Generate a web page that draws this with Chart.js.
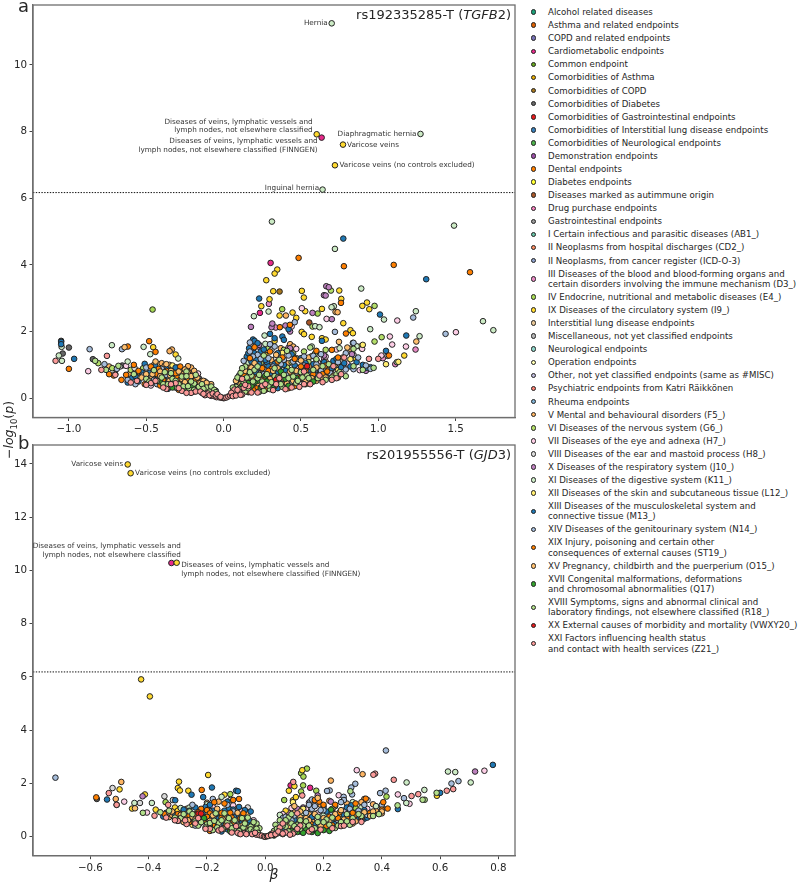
<!DOCTYPE html>
<html>
<head>
<meta charset="utf-8">
<script src="https://cdn.jsdelivr.net/npm/chart.js@4"></script>
<style>
  html, body { margin: 0; padding: 0; background: #fff; }
  body { width: 798px; height: 884px; position: relative; overflow: hidden; font-family: "DejaVu Sans", sans-serif; color: #262626; }
  canvas { position: absolute; left: 0; }
  #chartA { top: 0; }
  #chartB { top: 440px; }
  .letter { position: absolute; left: 18px; font-size: 18px; line-height: 18px; }
  #yTitle { position: absolute; left: 10px; top: 430px; font-size: 12.5px; white-space: nowrap; transform: translate(-50%, -50%) rotate(-90deg); }
  #yTitle sub { font-size: 8.5px; }
  #legend { position: absolute; left: 526px; top: 5.6px; margin: 0; padding: 0; list-style: none; font-size: 8.65px; line-height: 10.2px; }
  #legend li { position: relative; padding: 1.45px 0 1.45px 22px; white-space: nowrap; }
  #legend b { position: absolute; left: 4.5px; top: 50%; width: 3.6px; height: 3.6px; margin-top: -2.8px; border: 1px solid #222; border-radius: 50%; }
</style>
</head>
<body>
<canvas id="chartA" width="520" height="440" style="width:520px;height:440px"></canvas>
<canvas id="chartB" width="520" height="444" style="width:520px;height:444px"></canvas>
<div class="letter" style="top:-3px">a</div>
<div class="letter" style="top:434px">b</div>
<div id="yTitle"><i>−log</i><sub>10</sub>(<i>p</i>)</div>
<ul id="legend"></ul>
<script>
const categories = [
  "Alcohol related diseases", "Asthma and related endpoints", "COPD and related endpoints", "Cardiometabolic endpoints",
  "Common endpoint", "Comorbidities of Asthma", "Comorbidities of COPD", "Comorbidities of Diabetes",
  "Comorbidities of Gastrointestinal endpoints", "Comorbidities of Interstitial lung disease endpoints",
  "Comorbidities of Neurological endpoints", "Demonstration endpoints", "Dental endpoints", "Diabetes endpoints",
  "Diseases marked as autimmune origin", "Drug purchase endpoints", "Gastrointestinal endpoints",
  "I Certain infectious and parasitic diseases (AB1_)", "II Neoplasms from hospital discharges (CD2_)",
  "II Neoplasms, from cancer register (ICD-O-3)",
  "III Diseases of the blood and blood-forming organs and\ncertain disorders involving the immune mechanism (D3_)",
  "IV Endocrine, nutritional and metabolic diseases (E4_)", "IX Diseases of the circulatory system (I9_)",
  "Interstitial lung disease endpoints", "Miscellaneous, not yet classified endpoints", "Neurological endpoints",
  "Operation endpoints", "Other, not yet classified endpoints (same as #MISC)", "Psychiatric endpoints from Katri Räikkönen",
  "Rheuma endpoints", "V Mental and behavioural disorders (F5_)", "VI Diseases of the nervous system (G6_)",
  "VII Diseases of the eye and adnexa (H7_)", "VIII Diseases of the ear and mastoid process (H8_)",
  "X Diseases of the respiratory system (J10_)", "XI Diseases of the digestive system (K11_)",
  "XII Diseases of the skin and subcutaneous tissue (L12_)",
  "XIII Diseases of the musculoskeletal system and\nconnective tissue (M13_)", "XIV Diseases of the genitourinary system (N14_)",
  "XIX Injury, poisoning and certain other\nconsequences of external causes (ST19_)",
  "XV Pregnancy, childbirth and the puerperium (O15_)",
  "XVII Congenital malformations, deformations\nand chromosomal abnormalities (Q17)",
  "XVIII Symptoms, signs and abnormal clinical and\nlaboratory findings, not elsewhere classified (R18_)",
  "XX External causes of morbidity and mortality (VWXY20_)",
  "XXI Factors influencing health status\nand contact with health services (Z21_)"
];
const catKeys = ["alc","ast","cop","car","com","cas","cco","cdi","cga","cil","cne","dem","den","dia","aut","drg","gas",
  "ab1","cd2","ico","d3","e4","i9","ild","mis","neu","ope","oth","psy","rhe","f5","g6","h7","h8","j10","k11","l12",
  "m13","n14","st19","o15","q17","r18","vw","z21"];
const catColors = ["#1b9e77","#d95f02","#7570b3","#e7298a","#66a61e","#e6ab02","#a6761d","#666666",
  "#e41a1c","#377eb8","#4daf4a","#984ea3","#ff7f00","#ffff33","#a65628","#f781bf","#999999",
  "#66c2a5","#fc8d62","#8da0cb","#e78ac3","#a6d854","#ffd92f","#e5c494","#b3b3b3",
  "#8dd3c7","#ffffb3","#bebada","#fb8072","#80b1d3","#fdb462","#b3de69","#fccde5","#d9d9d9","#bc80bd","#ccebc5","#ffed6f",
  "#1f78b4","#a6bddb","#ff7f00","#fdbf6f","#33a02c","#b2df8a","#e31a1c","#fb9a99"];

// panel a, [beta, -log10 p]
const carA = [[.304,4.06],[.235,2.56],[.634,7.82]];
const ccoA = [[.362,3.2]];
const cdiA = [[-1.05,1.72],[-1.0,1.52],[-1.04,1.34],[-.845,1.17],[-.655,.98]];
const autA = [[.554,2.27]];
const d3A = [[.293,2.83],[.337,2.12],[1.241,1.46],[.65,1.18],[.42,1.52],[1.03,1.2],[1.11,1.02]];
const e4A = [[-.459,2.66],[.379,2.67],[.608,2.54]];
const i9A = [[.602,7.92],[.772,7.61],[.72,6.99],[.347,3.86],[.33,3.74],[.276,3.54],[.748,3.23],[.321,3.21],[.506,3.22],[.519,3.02],
  [.297,2.97],[.761,2.98],[.244,2.76],[.897,2.77],[.927,2.87],[.942,2.67],[.636,2.68],[.446,2.57],[.528,2.61],[.362,2.48],[.47,2.41],
  [.774,2.25],[.82,2.04],[.836,1.95],[.636,1.8],[.66,1.76],[.57,1.84],[.505,1.99],[.52,1.92],[.33,1.72],[.27,1.3],[1.168,1.28],[-.455,1.53],[-.31,1.31],
  [.884,1.55],[.855,1.18],[.63,.7],[.72,1.0],[.41,.98],[.29,.66],[-.36,.92],[-.27,.78],[-.55,.78],[-.7,.72],[-.37,.62],[-.29,.62],[-.2,.42],[.19,.75],[.56,.62],[.45,.76]];
const f5A = [[-.334,1.46],[-.349,1.41],[.724,2.59],[.737,2.58],[.403,2.48],[.82,1.48],[.77,1.22],[.57,1.26],[.31,1.15],[.43,1.62],[.68,.85],
  [-.26,.72],[-.42,1.02],[-.39,.65],[-.32,.88],[-.21,.92],[-.22,.62],[-.46,.62],[-.61,.72],[.2,.64],[.5,.58],[.35,.45],[.6,.52],[.26,.93],[.12,.45],
  [-.4,1.05],[-.38,.98],[-.35,.78],[-.3,.92],[-.24,.88],[-.19,.75],[-.16,.6],[.15,.9],[.24,.78],[.34,.72],[.42,1.05],[.52,.72],[.66,1.1],
  [.37,1.5],[.55,1.22],[.45,1.55],[.28,1.45],[-.45,1.0],[-.35,1.0],[-.23,.96],[-.58,.85],[-.74,.95]];
const g6A = [[.694,3.23],[.976,2.77],[.575,2.15],[.976,1.7],[1.022,1.83],[.44,1.08],[.59,1.33],[.52,1.4],[.45,1.35],[.24,1.05],[.15,.7],
  [-.81,1.05],[-.52,.9],[-.28,.36],[-.12,.24],[.66,1.45],[.12,.66],[.14,.52],[.19,.85],[.22,.82],[.3,.95],[.35,.85],[.41,.92],[.49,.7],[.55,.88],[-.34,.66],[-.25,.55],[-.17,.34],
  [.47,1.2],[.39,1.45],[.55,1.08],[.29,1.5],[-.6,.85],[-.72,.9],[-.2,.62]];
const h7A = [[.506,2.7],[.666,2.38],[1.123,2.33],[1.502,1.98],[1.075,1.85],[1.09,1.61],[1.179,1.55],[.896,1.48],[.44,2.15],[-.875,.81],[.7,.73],
  [.48,.9],[.66,1.25],[.61,1.08],[.77,.98],[.47,1.48],[.73,1.46],[.8,1.04],[-.165,.74],[-.47,.38],[-.63,.97],[1.02,1.28],[.88,.84],[.28,.9],[.23,.86],[.36,.7],[.16,.98],[-.29,.48],[-.21,.42]];
const h8A = [[-.575,.9],[1.06,1.27],[.84,1.3],[.31,1.45],[.6,1.14],[-.67,.95],[.7,.88],[.18,1.56],[.34,1.2],[-.41,.86]];
const j10A = [[.664,3.36],[.68,3.33],[.649,3.09],[.66,3.08],[.575,2.56],[.7,2.37],[.177,2.14],[.31,2.13],[.315,2.24],[.4,2.18],[.43,2.0],
  [.43,1.5],[.65,1.28],[.92,.82],[.83,1.32],[.225,1.55],[.19,1.48],[.23,1.6]];
const k11A = [[.699,11.25],[1.273,7.93],[.64,6.26],[.3125,5.3],[1.49,5.18],[.72,4.48],[.89,3.29],[.713,2.76],[.698,2.73],[.291,2.6],[1.243,2.61],
  [.196,2.46],[1.037,2.36],[1.677,2.31],[1.744,2.04],[.948,2.07],[1.267,1.86],[.265,1.88],[.592,2.16],[.62,2.13],[1.12,1.08],[.27,1.63],
  [-.722,1.59],[-.517,1.54],[-.474,1.32],[-.293,1.19],[-1.065,1.28],[-1.047,1.54],[-1.045,1.12],[-.62,1.1],[.86,1.56],[.75,1.5],[.57,1.55],[.16,1.05],[.28,1.0],[.48,1.18],[-.56,.62],[-.38,.7]];
const l12A = [[1.05,1.02],[1.13,1.09],[.9,1.6],[.82,1.17],[.38,1.36],[-.33,.98],[-.44,.72],[.57,.48],[.74,.84],[.62,.95],[-.27,.5],[.23,.52]];
const m13A = [[.774,4.79],[1.31,3.57],[.23,2.99],[1.011,2.51],[1.181,1.88],[1.05,1.42],[.836,1.66],[.636,1.72],[.33,1.8],[.38,1.85],[.39,1.75],[.42,2.07],[.3,1.93],
  [-1.05,1.69],[-1.05,1.62],[-.966,1.18],[-.442,.97],[-.51,1.03],[-.59,.62],[.19,1.76],[.2,1.72],[.22,1.65],[.165,1.5],[.2,1.35],[.24,1.4],[.26,1.46],
  [.15,1.25],[.18,1.1],[.23,1.02],[.28,1.08],[.33,1.03],[.36,.93],[.12,.78],[.16,.86],[.21,.78],[.25,.66],[.3,.72],[.34,.62],[.4,.82],[.46,.99],[.5,1.2],
  [.53,1.05],[.55,.78],[.44,.6],[.52,.58],[.62,.82],[.71,1.12],[.73,1.18],[.76,.93],[.86,1.08],[.9,1.0],[.93,.91],[.95,.93],
  [-.53,.78],[-.48,.76],[-.62,.47],[-.55,.5],[-.44,.58],[-.38,.53],[-.33,.4],[-.28,.45],[-.24,.6],[-.2,.53],[-.15,.39],[-.26,.3],[-.18,.27],[-.1,.24],[-.06,.14],
  [.09,.5],[.13,.6],[.14,.42],[.17,.55],[.19,.42],[.19,.95],[.16,1.35],[.21,1.15],[.24,.9],[.27,.55],[.27,1.15],[.29,.95],[.32,.55],[.35,.75],[.37,.5],[.39,1.0],[.43,.75],[.46,.5],[.48,.75],[.51,.85],[.57,.65],[.6,.7],[.66,.72],[.68,.65],[.7,.9],[.78,1.05],[.82,.95],
  [-.5,.62],[-.46,.5],[-.42,.72],[-.4,.45],[-.36,.65],[-.34,.58],[-.31,.32],[-.29,.55],[-.27,.4],[-.25,.25],[-.23,.48],[-.22,.28],[-.19,.62],[-.17,.44],[-.16,.3],[-.13,.35],[-.12,.42],[-.08,.32],
  [.44,1.32],[.58,1.02],[.35,1.35],[.65,1.08],[-.37,.88],[-.31,.92],[-.57,.66],[.35,.3],[.26,.26],[-.36,.28],[-.21,.18],[.16,.18]];
const n14A = [[1.226,2.42],[1.435,1.93],[.72,1.99],[.46,2.28],[.84,1.66],[.87,1.22],[.92,.98],[.95,.88],[.79,1.35],[-.866,1.47],[-.657,1.47],[.33,1.55],[.39,1.15],[.58,1.27],
  [.17,1.67],[.22,1.3],[.27,.83],[.49,.77],[.65,.92],[.79,.86],[.84,.87],[.43,.46],[.6,1.02],[-.69,.88],[-.62,.55],[-.57,.42],[-.43,.42],[-.37,.7],[-.27,.52],[-.16,.58],[-.09,.36],[.09,.44],
  [.1,.68],[.13,1.12],[.17,1.4],[.19,1.25],[.24,1.18],[.26,.72],[.29,1.2],[.32,.95],[.37,1.02],[.41,.7],[.45,1.1],[.47,.72],[.52,.98],[.56,.7],[.59,.85],[.63,.82],[.69,.75],[.74,1.08],
  [-.52,.68],[-.45,.55],[-.4,.88],[-.35,.58],[-.3,.68],[-.26,.62],[-.22,.52],[-.2,.4],[-.17,.5],[-.12,.5],[-.05,.22],[.52,1.25],[.42,1.28],[.3,1.62],[.63,1.32],[-.5,.92],[-.77,1.02]];
const st19A = [[.485,4.21],[1.1,4.0],[.778,3.96],[1.593,3.78],[.759,2.86],[.364,2.13],[.429,2.2],[.791,1.94],[1.069,1.28],[.66,.98],[.74,1.22],
  [-.619,1.55],[-.481,1.71],[-.44,1.39],[-1.0,.88],[.2,1.53],[.17,1.2],[.25,.9],[.31,.88],[.38,1.22],[.48,.62],[.56,.5],[.62,.62],[.11,.6],[.23,.44],[.29,.32],[.34,.52],
  [.41,.55],[-.58,1.0],[-.66,.55],[-.71,.68],[-.51,.42],[-.47,.95],[-.35,.35],[-.24,.42],[-.2,.72],[-.14,.52],[-.3,.62],[-.41,.38],[.2,.28],
  [.13,.72],[.15,.5],[.17,.92],[.19,.62],[.21,.98],[.22,.33],[.26,.6],[.27,.38],[.29,.82],[.31,.6],[.33,.36],[.37,.65],[.39,.42],[.44,.72],[.46,.36],[.5,.95],[.53,.42],[.58,.72],[.64,.72],[.67,.8],[.74,.62],
  [-.43,.72],[-.39,.55],[-.37,.82],[-.33,.55],[-.31,.75],[-.28,.55],[-.26,.42],[-.23,.56],[-.22,.75],[-.19,.35],[-.18,.55],[-.16,.46],[-.12,.35],[-.1,.42],
  [.35,1.1],[.46,1.18],[.53,.82],[.6,1.42],[.7,1.45],[.3,1.4],[-.42,.88],[-.28,.95],[-.25,.68],[-.55,.82],[-.63,.7],[-.74,.72],[.42,.3],[.16,.2],[.27,.25],[-.29,.25],[-.19,.2]];
const o15A = [[.746,1.69],[1.246,1.7],[.5,1.13],[.34,1.3],[.8,1.52],[.55,.95],[.64,.58],[.18,.92],[.43,.8],[-.64,1.53],[-.41,.8],[-.345,.68],[-.25,.86],[-.53,.62],
  [-.44,1.1],[-.37,1.02],[-.29,.8],[-.17,.62],[-.08,.42],[.1,.34],[.3,.42],[.71,.67],
  [.08,.52],[.11,.42],[.14,.82],[.16,.62],[.2,1.05],[.22,.45],[.24,.55],[.27,.48],[.3,.58],[.32,.82],[.35,.9],[.38,.6],[.41,.45],[.45,.52],[.47,.82],[.53,.52],[.57,.6],[.6,.92],[.66,.62],
  [-.5,.72],[-.46,.72],[-.41,.66],[-.35,.52],[-.34,.82],[-.3,.42],[-.27,.58],[-.25,.48],[-.23,.74],[-.21,.66],[-.19,.82],[-.15,.46],[-.13,.52],[-.11,.46],[-.1,.22]];
const q17A = [[.37,.8],[.28,.5],[.18,.37],[.42,.37],[-.41,.5],[-.2,.35],[-.33,.32],[.16,.45],[.22,.52],[.24,.3],[.27,.68],[.32,.3],[.4,.58],[.47,.6],[.58,.5],[.12,.38],[.2,.48],[-.24,.3],[-.14,.3]];
const r18A = [[.41,1.42],[.56,1.52],[.84,1.48],[.97,.91],[.79,.66],[.68,1.02],[.6,1.17],[.5,.78],[.44,.85],[.36,1.15],[.33,.66],[.26,1.28],[.22,.6],[.18,.68],[.14,.95],[.11,.76],[.08,.34],
  [.3,.27],[.38,.34],[.47,.45],[.54,.68],[.64,.96],[.73,.72],[.84,.96],[.9,.85],[.14,.2],[.23,.19],[.06,.2],
  [-.83,1.12],[-.76,.85],[-.68,.97],[-.58,.72],[-.5,.58],[-.45,.84],[-.39,.42],[-.34,.75],[-.3,.31],[-.27,.65],[-.22,.25],[-.19,.44],[-.15,.25],[-.11,.32],[-.07,.26],[-.04,.1],[-.24,.8],
  [.06,.32],[.09,.62],[.1,.28],[.12,.9],[.13,.48],[.15,.62],[.16,.3],[.17,.78],[.19,.5],[.2,.85],[.22,.95],[.23,.7],[.25,.5],[.26,.22],[.28,.72],[.29,.38],[.31,.48],[.33,.9],[.35,.62],[.37,.42],[.39,.7],[.42,.6],[.45,.65],[.48,.52],[.51,.62],[.55,.6],[.58,.85],[.61,.6],[.66,.55],[.7,.62],[.75,.78],
  [-.48,.5],[-.43,.52],[-.4,.62],[-.38,.78],[-.36,.42],[-.33,.58],[-.31,.52],[-.29,.42],[-.26,.35],[-.24,.66],[-.23,.36],[-.21,.5],[-.19,.25],[-.18,.7],[-.16,.34],[-.14,.42],[-.13,.28],[-.09,.2],[-.08,.35],[-.06,.25],[-.05,.18]];
const vwA = [[.54,.96],[.34,.55]];
const z21A = [[-1.086,1.12],[-.754,1.27],[-.79,.85],[-.7,.7],[-.6,.47],[-.47,.45],[-.37,.28],[-.31,.45],[-.27,.22],[-.21,.16],
  [-.14,.16],[-.12,.09],[-.1,.14],[-.08,.07],[-.06,.06],[-.045,.03],[-.025,.02],[-.01,.01],[0,0],[.006,.01],[.018,.02],[.03,.05],[.042,.08],[.055,.11],[.07,.12],[.085,.15],[.07,.26],[.1,.19],[.12,.11],
  [.13,.31],[.18,.17],[.16,.36],[.25,.37],[.32,.24],[.4,.27],[.36,.6],[.52,.42],[.62,.68],[.7,.55],[.12,.58],[.52,.8],[.78,1.22],[.94,1.18],[1.0,1.18],[.71,.96],
  [.05,.16],[.06,.06],[.08,.08],[.09,.25],[.11,.1],[.14,.4],[.22,.17],[.27,.42],[.34,.42],[.44,.32],[.49,.34],[.56,.42],[.64,.48],[.73,.6],[.76,.72],
  [-.56,.52],[-.5,.4],[-.44,.52],[-.39,.32],[-.34,.42],[-.29,.3],[-.24,.16],[-.18,.2],[-.15,.2],[-.13,.13],[-.09,.09],[-.07,.14],[-.05,.08],[-.04,.12],[-.02,.04]];
const pointsA = { car:carA, cco:ccoA, cdi:cdiA, aut:autA, d3:d3A, e4:e4A, i9:i9A, f5:f5A, g6:g6A, h7:h7A, h8:h8A, j10:j10A, k11:k11A, l12:l12A, m13:m13A, n14:n14A, st19:st19A, o15:o15A, q17:q17A, r18:r18A, vw:vwA, z21:z21A };

// panel b, [beta, -log10 p]
const carB = [[-.322,10.28],[.087,1.93],[.154,1.84]];
const cdiB = [[-.578,1.42]];
const d3B = [[.15,1.28],[.08,.9]];
const e4B = [[.143,2.56],[.123,2.39],[.131,2.26],[.13,1.93],[.175,1.73],[.123,1.7],[.065,1.38],[.416,1.51],[.31,1.08],[-.342,1.3],[-.12,1.6]];
const i9B = [[-.472,13.98],[-.462,13.65],[-.304,10.29],[-.426,5.91],[-.396,5.27],[.127,2.5],[.1,1.9],[.081,1.73],[.095,1.37],[.105,1.49],[.589,1.54],
  [-.5,1.78],[-.413,1.59],[-.457,1.06],[-.376,1.02],[-.296,2.07],[-.3,1.83],[-.293,1.74],[-.264,1.73],[-.196,2.32],[-.31,1.1],[-.3,.98],[.07,.98],[.4,1.1],[.28,.62],[-.14,1.58],[-.24,.62],[-.15,.8],[.06,.62],[.16,.42]];
const f5B = [[-.494,2.06],[-.513,1.42],[.334,2.35],[.225,2.11],[.18,1.42],[.19,1.2],[.34,1.42],[.26,.9],[.33,.88],[.4,.88],[-.22,.98],[-.16,1.32],[-.33,.74],[-.28,.95],[-.12,1.08],
  [-.09,.62],[.12,.75],[.2,.96],[.29,.68],[.38,.97],[.16,.62],[.1,1.0],[.15,.85],[.24,.55],[-.27,1.05],[-.21,.72],[-.16,.85],[-.13,.72],[-.06,.42],[-.03,.4],
  [-.32,.82],[-.2,1.28],[.28,1.25],[.22,1.35],[.33,1.3],[.37,1.22],[-.06,.88]];
const h7B = [[.752,2.48],[.314,2.5],[.455,1.59],[.495,1.24],[.252,1.56],[-.484,1.32],[-.406,.91],[.35,1.05],[.06,.85],[.14,1.05],[.27,.98],[-.18,1.12],[-.08,.98],[.18,.9],[.23,1.0],[.09,1.08],[-.11,1.18],[-.04,.62]];
const h8B = [[-.524,1.83],[-.43,1.27],[-.346,1.52],[-.317,1.38],[.351,1.38],[-.06,1.1],[-.12,1.38],[.09,.72]];
const j10B = [[.72,2.45],[-.421,1.52],[.18,1.55],[.11,1.05],[.225,1.32],[.13,1.1]];
const k11B = [[.652,2.43],[.627,2.45],[.705,2.04],[.546,1.76],[.485,2.04],[.484,1.27],[.3,1.3],[-.449,1.27],[-.389,1.27],[-.2,1.22],[-.15,1.5],[.13,.9],[.2,.8],[.33,1.1],[-.26,1.1],[.05,.82],[.24,1.15],[.38,1.15],[-.29,1.08]];
const l12B = [[.095,1.3],[.13,1.05],[.26,.75],[-.25,.45],[-.1,.88],[.21,.55],[-.17,.95]];
const m13B = [[.781,2.7],[.6,1.65],[.455,1.04],[-.543,1.4],[-.253,1.58],[-.213,1.49],[-.183,1.85],[-.1,1.73],[-.094,1.71],[-.309,1.37],[-.35,.76],[-.34,.9],[.295,1.18],[.21,.95],[.29,.92],
  [.34,.68],[.16,.74],[.27,.82],[.2,.5],[.25,.55],[.32,.72],[.1,.64],[.14,.35],[-.27,.85],[-.25,.62],[-.22,.78],[-.2,.55],[-.205,1.12],[-.18,.98],[-.16,.7],[-.15,.45],[-.125,1.05],[-.12,.82],
  [-.11,.6],[-.1,.9],[-.09,1.12],[-.07,.72],[-.06,.5],[-.05,.95],[-.13,.28],[-.17,.32],[.22,.37],
  [-.31,.8],[-.29,.62],[-.26,.98],[-.235,.7],[-.215,.9],[-.195,1.02],[-.185,.72],[-.17,.85],[-.155,.58],[-.14,.98],[-.135,.62],[-.12,.62],[-.105,.48],[-.105,.74],[-.09,.8],[-.08,.55],[-.07,1.0],[-.055,.62],[-.045,.45],[-.12,.35],[-.09,.28],
  [.06,.28],[.09,.45],[.12,.2],[.13,.52],[.15,.3],[.17,.45],[.18,.3],[.19,.62],[.23,.62],[.24,.48],[.26,.45],[.27,.58],[.29,.78],[.31,.9],[.33,.62],[.35,.72],
  [-.24,1.1],[-.19,1.2],[-.13,1.32],[-.11,1.02],[-.28,1.02],[.2,1.12],[.28,1.1],[.34,1.0],[.1,.3],[-.15,.2],[-.07,.2]];
const n14B = [[-.72,2.22],[.414,3.24],[.663,2.09],[.639,2.0],[.476,1.45],[.309,1.99],[.295,1.85],[.298,1.59],[.221,1.74],[.212,1.72],[.394,1.64],[.413,1.73],[.269,1.5],[.27,1.38],
  [.155,1.33],[.16,1.05],[.2,1.0],[.06,.7],[.1,.8],[.24,.7],[.35,.82],[-.3,.6],[-.18,1.42],[-.24,.42],[.29,1.05],[.4,1.2],[.12,.55],[.07,.75],[.09,.62],[.14,.9],[.17,1.15],[.19,1.0],[.23,.88],[.25,.62],[.28,.72],[.32,.98],[.37,.9],[.15,1.2],
  [-.28,.78],[-.23,.8],[-.19,.95],[-.16,.42],[-.13,1.2],[-.1,.52],[-.07,.6],[.26,1.3],[.34,1.2],[.16,1.4],[-.25,1.2],[-.11,.95]];
const st19B = [[-.58,1.48],[-.218,1.76],[-.24,.85],[-.2,1.0],[-.22,1.05],[-.19,.88],[-.345,.85],[-.12,.9],[-.09,1.42],[-.15,.72],[-.175,1.3],[-.11,.55],[.185,1.32],[.2,1.2],[.31,.82],[.255,.92],[.29,.62],[.2,.38],[.23,.43],[.345,1.43],[.405,1.3],[.4,1.02],[.42,1.06],[.155,.5],[-.14,.35],[-.26,.55],
  [-.3,.85],[-.27,.7],[-.245,.55],[-.23,.92],[-.21,.62],[-.2,.75],[-.18,.45],[-.165,.55],[-.15,.9],[-.135,.45],[-.115,.72],[-.1,.35],[-.085,.7],[-.075,.88],
  [.13,.5],[.16,.35],[.18,.22],[.21,.4],[.22,.75],[.25,.7],[.27,.48],[.28,.72],[.3,.9],[.33,.72],[.36,.9],
  [-.26,.8],[-.14,1.25],[-.11,1.38],[-.07,.55],[.24,1.2],[.31,1.25],[.17,1.38],[.09,.28],[-.19,.22],[-.12,.25]];
const o15B = [[-.447,1.07],[-.51,1.2],[.18,1.46],[.2,.7],[.26,1.0],[.23,1.05],[.14,.7],[.1,1.15],[.31,.58],[.07,.5],[-.33,.92],[-.31,.7],[-.28,.55],[-.25,.75],[-.19,.6],[-.13,.72],[-.08,.42],[-.06,.32],[.4,.95],[.36,.78],
  [-.32,.95],[-.29,.82],[-.265,.62],[-.24,.65],[-.225,.5],[-.195,.42],[-.18,.8],[-.165,1.05],[-.145,.65],[-.125,.5],[-.105,.3],[-.095,.9],[-.07,.3],[-.045,.35],[-.03,.2],
  [.08,.4],[.1,.3],[.12,.95],[.15,.62],[.17,.85],[.19,.42],[.22,.6],[.24,.85],[.27,.65],[.3,.5],[.34,.92],[.37,.95]];
const q17B = [[.226,1.02],[.14,.28],[.09,.22],[-.19,.4],[-.21,.7],[-.12,.2],[-.06,.18],[.05,.15],[.11,.18],[.13,.15],[.16,.18],[.08,.15],[.03,.05],[.2,.25],[-.16,.28],[-.09,.12],[-.23,.62],[.18,.14],[.22,.22],[.06,.1]];
const r18B = [[.588,1.65],[.547,1.39],[.54,1.39],[.292,1.71],[.454,1.18],[.28,.85],[.33,.78],[.37,.78],[.39,.85],[.1,.18],[.12,.3],[.07,.38],[.05,.62],[.035,.45],[.08,.72],[.11,.45],[.16,.25],[.18,.55],[.21,.65],[.24,.33],[.29,.45],
  [-.42,.9],[-.36,.92],[-.29,.7],[-.26,.95],[-.23,.42],[-.2,.47],[-.17,.88],[-.16,.52],[-.14,.88],[-.12,.42],[-.1,.3],[-.08,.7],[-.06,.72],[-.05,.38],[-.03,.5],[-.02,.32],[-.18,.25],[-.13,.55],
  [-.33,.98],[-.31,.72],[-.28,.85],[-.25,.85],[-.24,.58],[-.22,.55],[-.205,.35],[-.19,.52],[-.175,.6],[-.165,.35],[-.15,.62],[-.145,.3],[-.125,.7],[-.115,.32],[-.105,.62],[-.095,.42],[-.09,.22],[-.075,.35],[-.07,.5],[-.06,.2],[-.05,.28],[-.04,.55],[-.04,.2],[-.03,.3],[-.025,.15],
  [.02,.1],[.03,.22],[.04,.3],[.05,.28],[.06,.42],[.07,.62],[.08,.2],[.09,.5],[.09,.85],[.1,.4],[.11,.3],[.12,.62],[.13,.42],[.14,.58],[.15,.42],[.17,.32],[.18,.75],[.2,.55],[.22,.45],[.23,.72],[.25,.42],[.26,.55],[.28,.58],[.3,.7],[.32,.85]];
const vwB = [[-.229,.87],[-.22,.87]];
const z21B = [[-.537,1.64],[-.51,1.2],[-.38,.79],[-.333,1.2],[.441,2.14],[.377,2.37],[.371,2.33],[.645,1.79],[.623,1.73],[.525,1.6],[.502,1.53],[.096,2.06],[.127,1.55],
  [-.3,.6],[-.27,.48],[-.23,.7],[-.19,.3],[-.16,.24],[-.13,.42],[-.1,.4],[-.095,.15],[-.07,.14],[-.045,.1],[-.03,.08],[-.02,.06],[-.012,.04],[-.004,.01],
  [0,0],[.006,.02],[.015,.05],[.025,.12],[.03,.07],[.04,.12],[.05,.35],[.06,.5],[.07,.16],[.095,.12],[.12,.42],[.15,.2],[.19,.27],[.26,.4],[.3,.56],[.11,.88],
  [-.34,.72],[-.31,.62],[-.275,.62],[-.24,.5],[-.205,.3],[-.15,.28],[-.115,.16],[-.085,.1],[-.065,.1],[-.035,.15],
  [.01,.03],[.02,.06],[.035,.1],[.045,.2],[.06,.12],[.085,.08],[.11,.3],[.16,.28],[.23,.32],[.27,.42],[.33,.56]];
const pointsB = { car:carB, cdi:cdiB, d3:d3B, e4:e4B, i9:i9B, f5:f5B, h7:h7B, h8:h8B, j10:j10B, k11:k11B, l12:l12B, m13:m13B, n14:n14B, st19:st19B, o15:o15B, q17:q17B, r18:r18B, vw:vwB, z21:z21B };

const xTicksA = [-1, -0.5, 0, 0.5, 1, 1.5];
const yTicksA = [0, 2, 4, 6, 8, 10];
const xTicksB = [-0.6, -0.4, -0.2, 0, 0.2, 0.4, 0.6, 0.8];
const yTicksB = [0, 2, 4, 6, 8, 10, 12, 14];
const thresholdA = 6.17;
const thresholdB = 6.19;
const titleA = ["rs192335285-T (", "TGFB", "2)"];
const titleB = ["rs201955556-T (", "GJD", "3)"];

const noteTextsA = [["Hernia"],
  ["Diseases of veins, lymphatic vessels and", "lymph nodes, not elsewhere classified"],
  ["Diseases of veins, lymphatic vessels and", "lymph nodes, not elsewhere classified (FINNGEN)"],
  ["Diaphragmatic hernia"], ["Varicose veins"], ["Varicose veins (no controls excluded)"], ["Inguinal hernia"]];
const notePointsA = [[.699,11.25],[.602,7.92],[.634,7.82],[1.273,7.93],[.772,7.61],[.72,6.99],[.64,6.26]];
const noteLayoutA = [["right",-4,0],["right",-4,-8],["right",-4,8],["right",-4,0],["left",4,0],["left",4.5,0],["right",-3.5,-1]];
const noteTextsB = [["Varicose veins"], ["Varicose veins (no controls excluded)"],
  ["Diseases of veins, lymphatic vessels and", "lymph nodes, not elsewhere classified"],
  ["Diseases of veins, lymphatic vessels and", "lymph nodes, not elsewhere classified (FINNGEN)"]];
const notePointsB = [[-.472,13.98],[-.462,13.65],[-.322,10.28],[-.304,10.29]];
const noteLayoutB = [["right",-4.5,0],["left",4.5,0],["right",9.5,-12.5],["left",4.5,7]];

const FONT = "'DejaVu Sans'";

function overlay(title, threshold, texts, pts, layout) {
  return {
    id: "overlay",
    afterDatasetsDraw(chart) {
      const { ctx, chartArea: a, scales } = chart;
      ctx.save();
      // frame
      ctx.strokeStyle = "#6e6e6e";
      ctx.lineWidth = 1.3;
      ctx.strokeRect(a.left, a.top, a.right - a.left, a.bottom - a.top);
      // point labels
      ctx.fillStyle = "#333";
      ctx.font = "7.25px " + FONT;
      ctx.textBaseline = "middle";
      texts.forEach((lines, i) => {
        const [align, dx, dy] = layout[i];
        const px = scales.x.getPixelForValue(pts[i][0]) + dx;
        const py = scales.y.getPixelForValue(pts[i][1]) + dy;
        ctx.textAlign = align;
        lines.forEach((line, j) => ctx.fillText(line, px, py + (j - (lines.length - 1) / 2) * 8.4));
      });
      // title, middle part is italic
      ctx.fillStyle = "#262626";
      ctx.textAlign = "left";
      ctx.textBaseline = "alphabetic";
      const fonts = ["13px " + FONT, "italic 13px " + FONT, "13px " + FONT];
      let w = 0;
      title.forEach((t, i) => { ctx.font = fonts[i]; w += ctx.measureText(t).width; });
      let x = a.right - 4 - w;
      title.forEach((t, i) => { ctx.font = fonts[i]; ctx.fillText(t, x, a.top + 13.5); x += ctx.measureText(t).width; });
      ctx.restore();
    }
  };
}

function fmt(v, decimals) {
  return v.toFixed(decimals).replace("-", "−");
}

function makeChart(id, points, threshold, xRange, yRange, xTicks, yTicks, xHeight, top, xDec, title, texts, pts, layout, showBeta) {
  const datasets = [];
  catKeys.forEach((key, i) => {
    if (!points[key]) return;
    datasets.push({
      label: categories[i],
      data: points[key].map(p => ({ x: p[0], y: p[1] })),
      backgroundColor: catColors[i],
      borderColor: "#222",
      borderWidth: 1,
      pointRadius: 2.8,
      order: -i
    });
  });
  datasets.push({
    type: "line",
    data: [{ x: xRange[0], y: threshold }, { x: xRange[1], y: threshold }],
    borderColor: "#111",
    borderWidth: 1,
    borderDash: [1.4, 1.4],
    pointRadius: 0,
    order: 5
  });
  return new Chart(document.getElementById(id), {
    type: "scatter",
    data: { datasets },
    options: {
      responsive: false,
      animation: false,
      layout: { padding: { top: top, right: 4, left: 0, bottom: 0 } },
      plugins: { legend: { display: false }, tooltip: { enabled: false } },
      scales: {
        x: {
          min: xRange[0], max: xRange[1],
          grid: { drawOnChartArea: false, tickLength: 3.5, tickColor: "#444" },
          border: { color: "#6e6e6e", width: 1.3 },
          afterBuildTicks: s => { s.ticks = xTicks.map(v => ({ value: v })); },
          afterFit: s => { s.height = xHeight; s.paddingLeft = 0; s.paddingRight = 0; },
          ticks: { autoSkip: false, maxRotation: 0, padding: 2.5, color: "#262626", font: { family: FONT, size: 10.3 }, callback: v => fmt(v, xDec) },
          title: { display: showBeta, text: "β", color: "#262626", padding: 0, font: { family: FONT, size: 14, style: "italic" } }
        },
        y: {
          min: yRange[0], max: yRange[1],
          grid: { drawOnChartArea: false, tickLength: 3.5, tickColor: "#444" },
          border: { color: "#6e6e6e", width: 1.3 },
          afterBuildTicks: s => { s.ticks = yTicks.map(v => ({ value: v })); },
          afterFit: s => { s.width = 33; s.paddingTop = 0; s.paddingBottom = 0; },
          ticks: { autoSkip: false, padding: 2.5, color: "#262626", font: { family: FONT, size: 10.3 }, callback: v => fmt(v, 0) }
        }
      }
    },
    plugins: [overlay(title, threshold, texts, pts, layout)]
  });
}

makeChart("chartA", pointsA, thresholdA, [-1.232, 1.884], [-0.58, 11.8], xTicksA, yTicksA, 22.5, 5, 1, titleA, noteTextsA, notePointsA, noteLayoutA, false);
makeChart("chartB", pointsB, thresholdB, [-0.797, 0.857], [-0.71, 14.71], xTicksB, yTicksB, 28.3, 2, 1, titleB, noteTextsB, notePointsB, noteLayoutB, true);

// legend list
const legendEl = document.getElementById("legend");
categories.forEach((name, i) => {
  const li = document.createElement("li");
  li.innerHTML = `<b style="background:${catColors[i]}"></b>` + name.replace("\n", "<br>");
  legendEl.appendChild(li);
});
</script>
</body>
</html>
